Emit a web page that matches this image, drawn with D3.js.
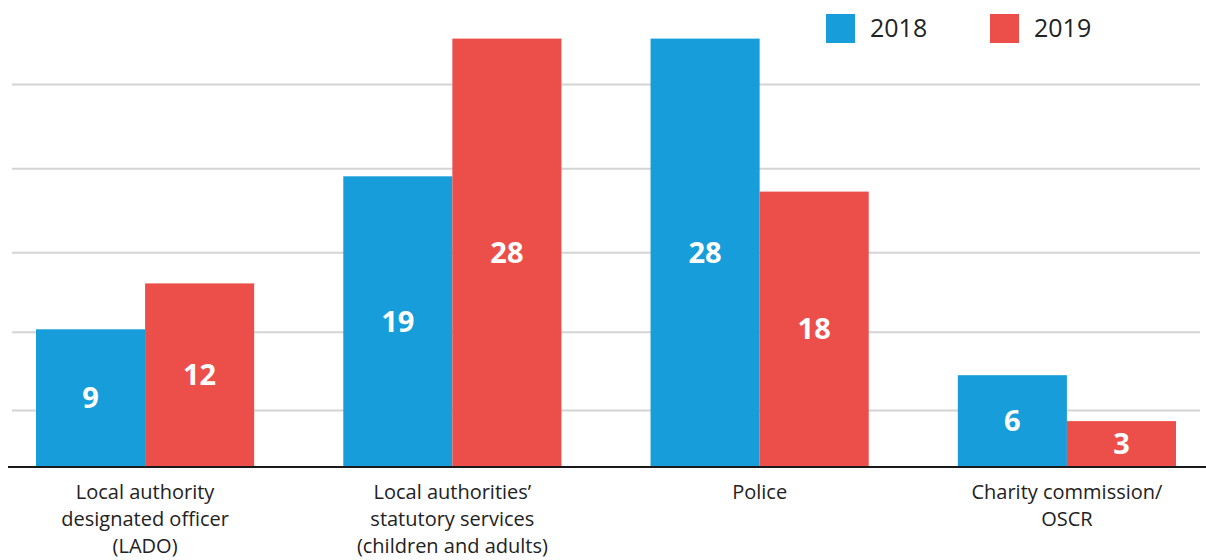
<!DOCTYPE html>
<html>
<head>
<meta charset="utf-8">
<script src="https://cdn.jsdelivr.net/npm/d3@7"></script>
<style>
  body { margin: 0; background: #fff; }
  svg { display: block; font-family: "Open Sans", "Noto Sans", sans-serif; }
</style>
</head>
<body>
<svg id="chart" width="1206" height="560"></svg>
<script>
// categories (one line per array entry)
const categories = [
  ['Local authority', 'designated officer', '(LADO)'],
  ['Local authorities\u2019', 'statutory services', '(children and adults)'],
  ['Police'],
  ['Charity commission/', 'OSCR']
]
const years = ['2018', '2019']
const values2018 = [9, 19, 28, 6]
const values2019 = [12, 28, 18, 3]
// gridlines in the picture (no tick labels shown)
const gridValues = [3.7, 8.8, 14, 19.5, 25]

const colors = {'2018': '#179dd9', '2019': '#ec4f4a'}

const svg = d3.select('#chart')
const baseY = 467

// build rows for the grouped bars
const rows = categories.map((c, i) => ({
  key: i,
  lines: c,
  vals: [{year: '2018', v: values2018[i]}, {year: '2019', v: values2019[i]}]
}))

const x0 = d3.scaleBand()
  .domain(rows.map(d => d.key))
  .range([36, 1176])
  .paddingInner(0.29)
  .paddingOuter(0)

const x1 = d3.scaleBand()
  .domain(years)
  .range([0, x0.bandwidth()])

const y = d3.scaleLinear()
  .domain([0, 30])
  .range([baseY, 8])

// gridlines
svg.append('g').selectAll('line')
  .data(gridValues)
  .join('line')
    .attr('x1', 12)
    .attr('x2', 1200)
    .attr('y1', d => y(d))
    .attr('y2', d => y(d))
    .attr('stroke', '#d4d4d4')
    .attr('stroke-width', 2)

// bars
const groups = svg.append('g').selectAll('g')
  .data(rows)
  .join('g')
    .attr('transform', d => `translate(${x0(d.key)},0)`)

groups.selectAll('rect')
  .data(d => d.vals)
  .join('rect')
    .attr('x', d => x1(d.year))
    .attr('y', d => y(d.v))
    .attr('width', x1.bandwidth())
    .attr('height', d => y(0) - y(d.v))
    .attr('fill', d => colors[d.year])

// value labels in the bars
groups.selectAll('text.val')
  .data(d => d.vals)
  .join('text')
    .attr('class', 'val')
    .attr('x', d => x1(d.year) + x1.bandwidth() / 2)
    .attr('y', d => (y(d.v) + y(0)) / 2)
    .attr('dy', '0.35em')
    .attr('text-anchor', 'middle')
    .attr('fill', '#fff')
    .attr('font-size', 29)
    .attr('font-weight', 700)
    .text(d => d.v)

// baseline
svg.append('line')
  .attr('x1', 8).attr('x2', 1206)
  .attr('y1', y(0)).attr('y2', y(0))
  .attr('stroke', '#1a1a1a')
  .attr('stroke-width', 2)

// category labels - one text per line so they don't collide
const cat = svg.append('g').selectAll('g')
  .data(rows)
  .join('g')
    .attr('transform', d => `translate(${x0(d.key) + x0.bandwidth() / 2},499)`)

cat.selectAll('text')
  .data(d => d.lines)
  .join('text')
    .attr('y', (d, i) => i * 27.2)
    .attr('text-anchor', 'middle')
    .attr('fill', '#222')
    .attr('font-size', 20)
    .text(d => d)

// legend
const legend = svg.append('g').selectAll('g')
  .data(years)
  .join('g')
    .attr('transform', (d, i) => `translate(${826 + i * 164},14)`)

legend.append('rect')
  .attr('width', 29).attr('height', 29)
  .attr('fill', d => colors[d])

legend.append('text')
  .attr('x', 44).attr('y', 14.5)
  .attr('dy', '0.35em')
  .attr('font-size', 25)
  .attr('fill', '#222')
  .text(d => d)
</script>
</body>
</html>
